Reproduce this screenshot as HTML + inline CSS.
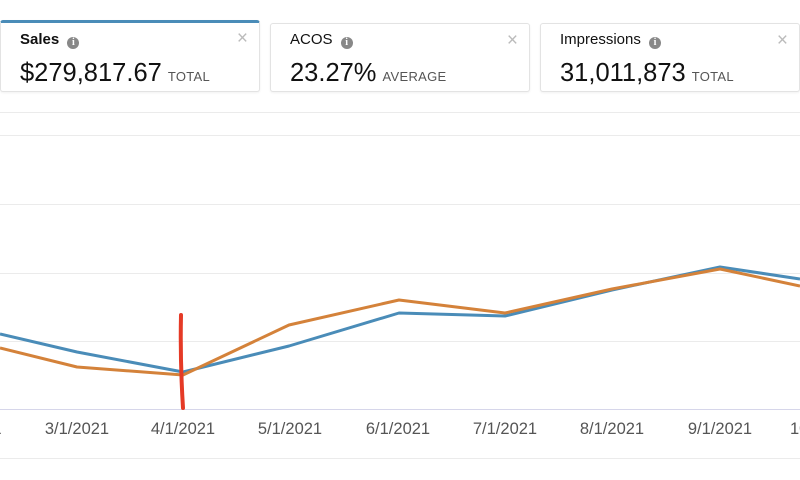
<!DOCTYPE html>
<html><head><meta charset="utf-8"><style>
html,body{margin:0;padding:0;width:800px;height:480px;overflow:hidden;background:#fff;font-family:"Liberation Sans","DejaVu Sans",sans-serif;}
.card{position:absolute;top:23px;height:69px;border:1px solid #e3e3e3;border-radius:3px;background:#fff;box-shadow:0 1px 2px rgba(0,0,0,0.06);box-sizing:border-box;}
.t{position:absolute;left:19px;top:7px;font-size:15px;color:#111;}
.v{position:absolute;left:19px;top:35px;font-size:25.5px;color:#111;white-space:nowrap;}
.v small{font-size:13px;color:#555;margin-left:6px;letter-spacing:0.3px;}
.i{display:inline-block;width:12px;height:12px;border-radius:50%;background:#888;color:#fff;font-size:10px;line-height:12px;text-align:center;font-weight:bold;vertical-align:-1px;margin-left:4px;font-family:"Liberation Serif",serif;}
.x{position:absolute;right:11px;top:6px;font-size:19px;color:#bbb;}
</style></head><body>
<div class="card" style="left:0;width:260px;border-top:3px solid #4a8cb8;top:20px;height:72px;">
<div class="t" style="font-weight:bold;top:8px">Sales <span class="i">i</span></div>
<div class="x" style="top:5px">×</div>
<div class="v" style="top:36px">$279,817.67<small>TOTAL</small></div></div>
<div class="card" style="left:270px;width:260px;">
<div class="t">ACOS <span class="i">i</span></div><div class="x">×</div>
<div class="v" style="top:35px">23.27%<small>AVERAGE</small></div></div>
<div class="card" style="left:540px;width:260px;">
<div class="t">Impressions <span class="i">i</span></div><div class="x">×</div>
<div class="v" style="top:35px">31,011,873<small>TOTAL</small></div></div>
<svg width="800" height="480" style="position:absolute;left:0;top:0">
<g stroke="#ebebeb" stroke-width="1">
<line x1="0" y1="112.5" x2="800" y2="112.5"/>
<line x1="0" y1="135.5" x2="800" y2="135.5"/>
<line x1="0" y1="204.5" x2="800" y2="204.5"/>
<line x1="0" y1="273.5" x2="800" y2="273.5"/>
<line x1="0" y1="341.5" x2="800" y2="341.5"/>
<line x1="0" y1="458.5" x2="800" y2="458.5"/>
</g>
<line x1="0" y1="409.5" x2="800" y2="409.5" stroke="#d6d6ea" stroke-width="1"/>
<g font-size="16.5" fill="#555" text-anchor="middle" font-family="Liberation Sans,sans-serif">
<text x="-3" y="434">1</text>
<text x="77" y="434">3/1/2021</text>
<text x="183" y="434">4/1/2021</text>
<text x="290" y="434">5/1/2021</text>
<text x="398" y="434">6/1/2021</text>
<text x="505" y="434">7/1/2021</text>
<text x="612" y="434">8/1/2021</text>
<text x="720" y="434">9/1/2021</text>
<text x="790" y="434" text-anchor="start">10</text>
</g>
<polyline fill="none" stroke="#4a8cb8" stroke-width="3" stroke-linejoin="round" points="0,334 77,352 183,372 289,346 399,313 505,316 612,290 720,267 800,279"/>
<polyline fill="none" stroke="#d4823a" stroke-width="3" stroke-linejoin="round" points="0,348 77,367 183,375 289,325 399,300 505,313 612,289 720,269 800,286"/>
<path d="M181,315 Q180,360 183,408" stroke="#e53a26" stroke-width="4" fill="none" stroke-linecap="round"/>
</svg>
</body></html>
